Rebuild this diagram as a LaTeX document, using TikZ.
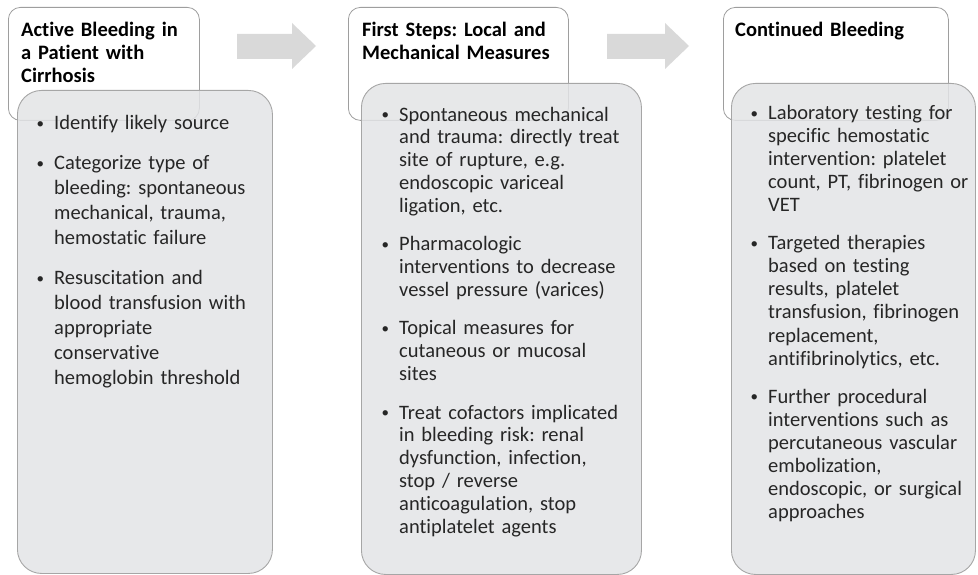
\documentclass[tikz,border=0pt]{standalone}
\usepackage{fontspec}
\setmainfont{Carlito}[Ligatures=NoCommon]
\definecolor{boxline}{HTML}{9E9E9E}
\definecolor{bodyline}{HTML}{A6A6A6}
\definecolor{bodyfill}{HTML}{E3E4E6}
\definecolor{arrowfill}{HTML}{D9D9D9}
\definecolor{txt}{HTML}{262626}
\newcommand{\bdot}{\raisebox{1.2pt}{\fontsize{15}{15}\selectfont\textbullet}}
\newcommand{\bitm}[1]{\hangindent=19pt\hangafter=1\noindent\makebox[19pt][l]{\hspace{1.5pt}\bdot}\strut#1\par}
\newcommand{\hdr}[1]{\noindent\strut#1\par}
\begin{document}
\frenchspacing
\begin{tikzpicture}[x=1pt,y=-1pt,
  hdrbox/.style={draw=boxline, line width=0.8pt, fill=white, rounded corners=12pt, anchor=north west, inner sep=0pt},
  bodybox/.style={draw=bodyline, line width=0.9pt, fill=bodyfill, fill opacity=0.85, rounded corners=24pt, anchor=north west, inner sep=0pt},
  hdrtext/.style={anchor=north west, inner sep=0pt, text width=240pt, font=\fontsize{20.5}{23}\selectfont\bfseries\frenchspacing, text=black},
  bodytextA/.style={anchor=north west, inner sep=0pt, text width=260pt, font=\fontsize{20.5}{25}\selectfont\frenchspacing, text=txt},
  bodytextB/.style={anchor=north west, inner sep=0pt, text width=260pt, font=\fontsize{20.5}{22.8}\selectfont\frenchspacing, text=txt},
  bodytextC/.style={anchor=north west, inner sep=0pt, text width=260pt, font=\fontsize{20.5}{23.1}\selectfont\frenchspacing, text=txt},
  blockarrow/.style={fill=arrowfill, draw=none}
]
\useasboundingbox (0,0) rectangle (978,575);

% block arrows
\fill[blockarrow] (237,34) -- (292,34) -- (292,23) -- (316,46) -- (292,69) -- (292,59) -- (237,59) -- cycle;
\fill[blockarrow] (607,34) -- (665,34) -- (665,23) -- (689,46) -- (665,69) -- (665,59) -- (607,59) -- cycle;

% header boxes
\node[hdrbox, minimum width=191pt, minimum height=113pt] (h1) at (8,7) {};
\node[hdrbox, minimum width=220pt, minimum height=113pt] (h2) at (348,7) {};
\node[hdrbox, minimum width=225pt, minimum height=113pt] (h3) at (723,7) {};

\node[hdrtext] (t1) at (21,20.5) {\hdr{Active Bleeding in\newline a Patient with\newline Cirrhosis}};
\node[hdrtext] (t2) at (362,20.5) {\hdr{First Steps: Local and\newline Mechanical Measures}};
\node[hdrtext] (t3) at (735,20.5) {\hdr{Continued Bleeding}};

% body boxes
\node[bodybox, minimum width=255pt, minimum height=483pt] (b1) at (17,90) {};
\node[bodybox, minimum width=280pt, minimum height=491pt] (b2) at (361,83) {};
\node[bodybox, minimum width=244pt, minimum height=491pt] (b3) at (731,83) {};

\node[bodytextA] (l1) at (35,112) {%
\bitm{Identify likely source}
\vspace{15pt}
\bitm{Categorize type of\newline bleeding: spontaneous\newline mechanical, trauma,\newline hemostatic failure}
\vspace{15pt}
\bitm{Resuscitation and\newline blood transfusion with\newline appropriate\newline conservative\newline hemoglobin threshold}};

\node[bodytextB] (l2) at (380,105) {%
\bitm{Spontaneous mechanical\newline and trauma: directly treat\newline site of rupture, e.g.\newline endoscopic variceal\newline ligation, etc.}
\vspace{15.7pt}
\bitm{Pharmacologic\newline interventions to decrease\newline vessel pressure (varices)}
\vspace{15.7pt}
\bitm{Topical measures for\newline cutaneous or mucosal\newline sites}
\vspace{15.7pt}
\bitm{Treat cofactors implicated\newline in bleeding risk: renal\newline dysfunction, infection,\newline stop / reverse\newline anticoagulation, stop\newline antiplatelet agents}};

\node[bodytextC] (l3) at (749,103) {%
\bitm{Laboratory testing for\newline specific hemostatic\newline intervention: platelet\newline count, PT, fibrinogen or\newline VET}
\vspace{14.8pt}
\bitm{Targeted therapies\newline based on testing\newline results, platelet\newline transfusion, fibrinogen\newline replacement,\newline antifibrinolytics, etc.}
\vspace{14.8pt}
\bitm{Further procedural\newline interventions such as\newline percutaneous vascular\newline embolization,\newline endoscopic, or surgical\newline approaches}};
\end{tikzpicture}
\end{document}
